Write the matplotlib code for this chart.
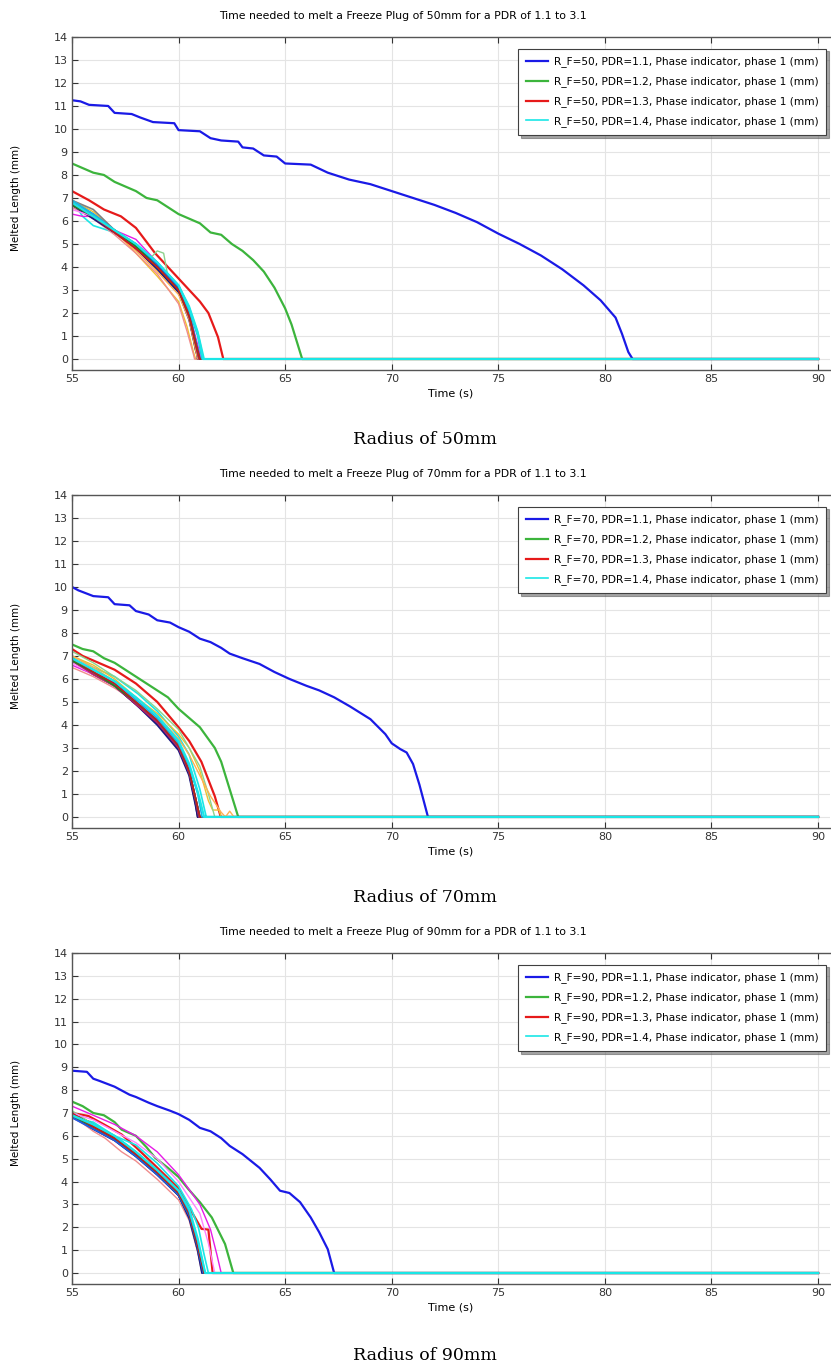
import matplotlib
matplotlib.use('Agg')
import matplotlib.pyplot as plt

radii = [50, 70, 90]
pdr = [1.1, 1.2, 1.3, 1.4, 1.5, 1.6, 1.7, 1.8, 1.9, 2.0, 2.1,
       2.2, 2.3, 2.4, 2.5, 2.6, 2.7, 2.8, 2.9, 3.0, 3.1]
t_end = 90

colors = ['#1a1ae6', '#3cb43c', '#e61a1a', '#1ae6e6', '#e61ae6', '#f0c030',
          '#202020', '#808080', '#8cd28c', '#f08c8c', '#8c3cc8', '#1a1a80',
          '#ffb050', '#ff80ff', '#40a0a0', '#c01a60', '#2060e0', '#1a8c1a',
          '#c81a1a', '#1ab4e6', '#1ae6e6']
widths = [1.6, 1.6, 1.6, 1.2, 1.0, 1.0, 1.4, 1.2, 1.0, 1.0, 1.2,
          1.4, 1.0, 1.0, 1.2, 1.2, 1.2, 1.2, 1.2, 1.2, 1.6]

# melted length (mm) vs time (s), one (t, L) pair per PDR, R_F = 50 mm
melt_50 = [
    ([55, 55.4, 55.8, 56.7, 57.0, 57.8, 58.2, 58.8, 59.8, 60.0, 61.0, 61.5, 62.0, 62.8, 63.0, 63.5, 64.0, 64.6, 65.0,
      66.2, 67.0, 68.0, 69.0, 70.0, 71.0, 72.0, 73.0, 74.0, 75.0, 76.0, 77.0, 78.0, 79.0, 79.8, 80.5, 80.8, 81.1, 81.3],
     [11.25, 11.2, 11.05, 11.0, 10.7, 10.65, 10.5, 10.3, 10.25, 9.95, 9.9, 9.6, 9.5, 9.45, 9.2, 9.15, 8.85, 8.8, 8.5,
      8.45, 8.1, 7.8, 7.6, 7.3, 7.0, 6.7, 6.35, 5.95, 5.45, 5.0, 4.5, 3.9, 3.2, 2.55, 1.8, 1.1, 0.3, 0]),
    ([55, 55.5, 56, 56.5, 57, 57.5, 58, 58.5, 59, 59.5, 60, 60.5, 61, 61.5, 62, 62.5, 63, 63.5, 64, 64.5, 65.0,
      65.3, 65.6, 65.8],
     [8.5, 8.3, 8.1, 8.0, 7.7, 7.5, 7.3, 7.0, 6.9, 6.6, 6.3, 6.1, 5.9, 5.5, 5.4, 5.0, 4.7, 4.3, 3.8, 3.1, 2.2,
      1.5, 0.6, 0]),
    ([55, 55.8, 56.5, 57.3, 58.0, 58.9, 60.0, 60.5, 61.0, 61.4, 61.85, 62.1],
     [7.3, 6.9, 6.5, 6.2, 5.7, 4.6, 3.5, 3.0, 2.5, 2.0, 0.95, 0]),
    ([55, 55.5, 56, 57, 58, 59, 60, 60.5, 60.9, 61.2],
     [6.9, 6.2, 5.8, 5.5, 5.0, 4.2, 3.2, 2.3, 1.2, 0]),
    ([55, 55.5, 56, 57, 58, 59, 60, 60.5, 60.9, 61.05],
     [6.3, 6.2, 6.2, 5.6, 5.2, 4.2, 3.1, 2.0, 0.6, 0]),
    ([55, 56, 57, 58, 59, 60, 60.4, 60.7, 60.8],
     [6.9, 6.4, 5.6, 4.6, 3.6, 2.5, 1.4, 0.3, 0]),
    ([55, 56, 57, 58, 59, 60, 60.5, 60.8, 60.95],
     [6.7, 6.2, 5.5, 4.9, 4.0, 3.0, 1.8, 0.4, 0]),
    ([55, 56, 57, 58, 59, 60, 60.5, 60.8, 61.0],
     [6.9, 6.5, 5.6, 5.0, 4.1, 3.1, 2.0, 0.8, 0]),
    ([55, 56, 57, 58, 58.6, 59.0, 59.3, 59.5, 60, 60.5, 60.8, 61.0],
     [6.9, 6.3, 5.6, 4.9, 4.3, 4.7, 4.6, 3.6, 3.0, 1.9, 0.7, 0]),
    ([55, 56, 57, 58, 59, 60, 60.4, 60.7, 60.75],
     [6.6, 6.1, 5.4, 4.6, 3.7, 2.4, 1.2, 0.2, 0]),
    ([55, 56, 57, 58, 59, 60, 60.5, 60.8, 60.95],
     [6.8, 6.2, 5.5, 4.8, 4.0, 3.0, 1.8, 0.6, 0]),
    ([55, 56, 57, 58, 59, 60, 60.5, 60.8, 60.9],
     [6.7, 6.1, 5.5, 4.8, 3.9, 2.9, 1.7, 0.5, 0]),
    ([55, 56, 57, 58, 59, 60, 60.5, 60.8, 60.9],
     [6.8, 6.3, 5.5, 4.7, 3.8, 2.8, 1.7, 0.4, 0]),
    ([55, 56, 57, 58, 59, 60, 60.5, 60.8, 61.0],
     [6.5, 6.2, 5.6, 5.0, 4.1, 3.1, 1.9, 0.8, 0]),
    ([55, 56, 57, 58, 59, 60, 60.5, 60.8, 61.0],
     [6.8, 6.2, 5.6, 4.9, 4.1, 3.1, 1.9, 0.8, 0]),
    ([55, 56, 57, 58, 59, 60, 60.5, 60.8, 60.95],
     [6.7, 6.2, 5.5, 4.8, 4.0, 3.0, 1.8, 0.6, 0]),
    ([55, 56, 57, 58, 59, 60, 60.5, 60.8, 61.0],
     [6.8, 6.3, 5.6, 4.9, 4.1, 3.1, 2.0, 0.8, 0]),
    ([55, 56, 57, 58, 59, 60, 60.5, 60.8, 61.0],
     [6.7, 6.2, 5.6, 4.9, 4.0, 3.0, 1.9, 0.7, 0]),
    ([55, 56, 57, 58, 59, 60, 60.5, 60.8, 61.0],
     [6.8, 6.2, 5.5, 4.8, 4.0, 3.0, 1.9, 0.7, 0]),
    ([55, 56, 57, 58, 59, 60, 60.5, 60.9, 61.1],
     [6.9, 6.3, 5.6, 5.0, 4.2, 3.2, 2.1, 1.0, 0]),
    ([55, 56, 57, 58, 59, 60, 60.5, 60.9, 61.15],
     [6.8, 6.2, 5.6, 5.0, 4.2, 3.2, 2.2, 1.1, 0]),
]

# R_F = 70 mm
melt_70 = [
    ([55, 55.3, 56, 56.7, 57.0, 57.7, 58.0, 58.6, 59, 59.6, 60, 60.5, 61, 61.5, 62, 62.4, 63, 63.8, 64.5, 65.2, 66,
      66.6, 67.3, 68.05, 69.0, 69.7, 70.0, 70.4, 70.7, 71.0, 71.3, 71.5, 71.7],
     [10.0, 9.85, 9.6, 9.55, 9.25, 9.2, 8.95, 8.8, 8.55, 8.45, 8.25, 8.05, 7.75, 7.6, 7.35, 7.1, 6.9, 6.65, 6.3, 6.0,
      5.7, 5.5, 5.2, 4.8, 4.25, 3.6, 3.2, 2.95, 2.8, 2.3, 1.4, 0.7, 0]),
    ([55, 55.5, 56, 56.5, 57, 57.5, 58, 58.5, 59, 59.5, 60, 60.5, 61, 61.7, 62.0, 62.3, 62.6, 62.8],
     [7.5, 7.3, 7.2, 6.9, 6.7, 6.4, 6.1, 5.8, 5.5, 5.2, 4.7, 4.3, 3.9, 3.0, 2.4, 1.5, 0.6, 0]),
    ([55, 55.5, 56, 57, 58, 59, 60, 60.5, 61.07, 61.7, 61.98],
     [7.3, 7.0, 6.8, 6.4, 5.8, 5.0, 3.9, 3.3, 2.4, 0.9, 0]),
    ([55, 56, 57, 58.1, 59, 60, 60.5, 61.0, 61.3],
     [7.0, 6.5, 6.1, 5.35, 4.6, 3.5, 2.7, 1.2, 0]),
    ([55, 56, 57, 58, 59, 60, 60.5, 60.8, 61.0],
     [6.6, 6.2, 5.7, 5.0, 4.2, 3.0, 1.9, 0.6, 0]),
    ([55, 56, 57, 58, 59, 60, 60.5, 61.0, 61.4, 61.6, 61.9, 62.0],
     [7.0, 6.6, 6.0, 5.2, 4.5, 3.6, 3.0, 2.0, 0.7, 0.3, 0.3, 0]),
    ([55, 56, 57, 58, 59, 60, 60.5, 60.8, 60.9],
     [6.8, 6.2, 5.7, 4.9, 4.1, 3.0, 1.9, 0.6, 0]),
    ([55, 56, 57, 58, 59, 60, 60.5, 60.8, 61.0],
     [6.9, 6.3, 5.8, 5.0, 4.2, 3.1, 2.0, 0.8, 0]),
    ([55, 56, 57, 58, 59, 60, 60.5, 61.0, 61.4, 61.7],
     [7.2, 6.7, 6.1, 5.5, 4.7, 3.8, 3.0, 2.2, 1.0, 0]),
    ([55, 56, 57, 58, 59, 60, 60.5, 60.8, 61.0],
     [6.5, 6.1, 5.6, 5.0, 4.2, 3.1, 2.0, 0.8, 0]),
    ([55, 56, 57, 58, 59, 60, 60.5, 60.8, 60.95],
     [6.8, 6.2, 5.7, 4.9, 4.1, 3.0, 1.9, 0.7, 0]),
    ([55, 56, 57, 58, 59, 60, 60.5, 60.8, 60.9],
     [6.9, 6.3, 5.7, 4.9, 4.0, 2.9, 1.8, 0.5, 0]),
    ([55, 56, 57, 58, 59, 60, 60.5, 61.0, 61.5, 62.0, 62.2, 62.4, 62.6],
     [7.0, 6.5, 5.9, 5.2, 4.4, 3.4, 2.7, 1.8, 0.9, 0.2, 0, 0.25, 0]),
    ([55, 56, 57, 58, 59, 60, 60.5, 60.8, 61.0],
     [6.7, 6.2, 5.7, 5.0, 4.2, 3.1, 2.0, 0.8, 0]),
    ([55, 56, 57, 58, 59, 60, 60.5, 60.8, 61.0],
     [6.9, 6.3, 5.8, 5.0, 4.2, 3.1, 2.0, 0.8, 0]),
    ([55, 56, 57, 58, 59, 60, 60.5, 60.8, 60.95],
     [6.8, 6.2, 5.7, 4.9, 4.1, 3.0, 1.9, 0.7, 0]),
    ([55, 56, 57, 58, 59, 60, 60.5, 60.8, 61.0],
     [6.9, 6.3, 5.8, 5.0, 4.2, 3.1, 2.0, 0.8, 0]),
    ([55, 56, 57, 58, 59, 60, 60.5, 60.8, 61.0],
     [6.8, 6.3, 5.7, 5.0, 4.2, 3.1, 2.0, 0.8, 0]),
    ([55, 56, 57, 58, 59, 60, 60.5, 60.8, 61.0],
     [6.9, 6.3, 5.8, 5.0, 4.2, 3.1, 2.0, 0.8, 0]),
    ([55, 56, 57, 58, 59, 60, 60.5, 60.9, 61.1],
     [6.9, 6.4, 5.9, 5.1, 4.3, 3.2, 2.2, 1.0, 0]),
    ([55, 56, 57, 58, 59, 60, 60.5, 60.9, 61.2],
     [6.9, 6.4, 5.9, 5.2, 4.4, 3.3, 2.3, 1.1, 0]),
]

# R_F = 90 mm
melt_90 = [
    ([55, 55.7, 56.0, 56.3, 57.0, 57.7, 58.0, 58.6, 59, 59.6, 60, 60.5, 61, 61.5, 62, 62.4, 63, 63.8, 64.3, 64.76, 65.2,
      65.7, 66.2, 66.6, 67.0, 67.3],
     [8.85, 8.8, 8.5, 8.4, 8.15, 7.8, 7.7, 7.45, 7.3, 7.1, 6.95, 6.7, 6.35, 6.2, 5.9, 5.56, 5.2, 4.6, 4.1, 3.6, 3.5,
      3.1, 2.43, 1.78, 1.04, 0]),
    ([55, 55.5, 56, 56.5, 57, 57.33, 58, 58.5, 58.9, 59.5, 60.0, 60.46, 61.0, 61.56, 62.18, 62.57],
     [7.5, 7.3, 7.0, 6.9, 6.6, 6.27, 6.0, 5.5, 5.04, 4.6, 4.2, 3.67, 3.1, 2.43, 1.27, 0]),
    ([55, 55.77, 56.5, 57.33, 58, 58.9, 60, 60.6, 61.08, 61.4, 61.6],
     [7.0, 6.87, 6.5, 6.06, 5.5, 4.7, 3.7, 2.7, 1.93, 1.9, 0]),
    ([55, 56, 57, 58, 59, 60, 60.6, 60.93, 61.2, 61.4],
     [6.8, 6.6, 6.0, 5.6, 4.8, 3.8, 2.8, 2.0, 0.8, 0]),
    ([55, 56, 57, 58, 59, 60, 61, 61.5, 61.8, 62.0],
     [7.3, 6.9, 6.5, 6.0, 5.3, 4.3, 3.0, 1.9, 0.8, 0]),
    ([55, 56, 57, 58, 59, 60, 60.5, 60.9, 61.2],
     [6.9, 6.4, 5.9, 5.2, 4.4, 3.5, 2.6, 1.2, 0]),
    ([55, 56, 57, 58, 59, 60, 60.5, 60.9, 61.15],
     [7.0, 6.5, 5.9, 5.2, 4.4, 3.4, 2.5, 1.0, 0]),
    ([55, 56, 57, 58, 59, 60, 60.5, 60.9, 61.2],
     [6.9, 6.4, 5.9, 5.2, 4.4, 3.5, 2.6, 1.2, 0]),
    ([55, 56, 57, 58, 59, 60, 60.5, 60.9, 61.2],
     [7.1, 6.5, 6.0, 5.3, 4.5, 3.6, 2.7, 1.3, 0]),
    ([55, 56, 56.55, 57.33, 58, 59, 60, 60.5, 60.9, 61.1],
     [6.9, 6.2, 5.9, 5.3, 4.9, 4.1, 3.2, 2.3, 0.9, 0]),
    ([55, 56, 57, 58, 59, 60, 60.5, 60.9, 61.15],
     [6.8, 6.3, 5.8, 5.1, 4.3, 3.4, 2.5, 1.1, 0]),
    ([55, 56, 57, 58, 59, 60, 60.5, 60.9, 61.1],
     [6.9, 6.3, 5.8, 5.1, 4.3, 3.4, 2.4, 1.0, 0]),
    ([55, 56, 57, 58, 59, 60, 60.5, 60.9, 61.2],
     [7.0, 6.4, 5.9, 5.2, 4.4, 3.5, 2.6, 1.2, 0]),
    ([55, 56, 57, 58, 59, 60, 61, 61.4, 61.7],
     [7.0, 6.7, 6.2, 5.7, 5.0, 4.0, 2.6, 1.3, 0]),
    ([55, 56, 57, 58, 59, 60, 60.5, 60.9, 61.2],
     [6.9, 6.4, 5.9, 5.2, 4.4, 3.5, 2.6, 1.2, 0]),
    ([55, 56, 57, 58, 59, 60, 60.5, 60.9, 61.2],
     [6.9, 6.4, 5.9, 5.2, 4.4, 3.5, 2.6, 1.2, 0]),
    ([55, 56, 57, 58, 59, 60, 60.5, 60.9, 61.15],
     [6.8, 6.3, 5.8, 5.1, 4.3, 3.4, 2.5, 1.1, 0]),
    ([55, 56, 57, 58, 59, 60, 60.5, 60.9, 61.2],
     [6.9, 6.4, 5.9, 5.2, 4.4, 3.5, 2.6, 1.2, 0]),
    ([55, 56, 57, 58, 59, 60, 60.5, 60.9, 61.2],
     [7.0, 6.4, 5.9, 5.2, 4.4, 3.5, 2.6, 1.2, 0]),
    ([55, 56, 57, 58, 59, 60, 60.5, 60.9, 61.25],
     [6.9, 6.5, 6.0, 5.3, 4.5, 3.6, 2.7, 1.4, 0]),
    ([55, 56, 57, 58, 59, 60, 60.5, 60.9, 61.25],
     [6.9, 6.5, 6.0, 5.3, 4.5, 3.6, 2.8, 1.5, 0]),
]

all_data = [melt_50, melt_70, melt_90]

fig = plt.figure(figsize=(8.31, 13.69), dpi=100)
# axes boxes in figure fractions: (left, bottom, width, height)
boxes = [(0.0866, 0.7297, 0.9122, 0.2433),
         (0.0866, 0.3952, 0.9122, 0.2433),
         (0.0866, 0.0621, 0.9122, 0.2418)]
title_y = [0.9883, 0.6538, 0.3192]
caption_y = [0.6786, 0.3441, 0.0095]

for k in range(3):
    ax = fig.add_axes(boxes[k])
    data = all_data[k]
    for i in range(len(pdr)):
        t, L = data[i]
        lab = 'R_F=%d, PDR=%.1f, Phase indicator, phase 1 (mm)' % (radii[k], pdr[i])
        ax.plot(list(t) + [t_end], list(L) + [0], color=colors[i], lw=widths[i],
                label=lab if i < 4 else None, zorder=2 + i * 0.01)
    ax.set_xlim(55, 90.56)
    ax.set_ylim(-0.48, 14)
    ax.set_xticks(range(55, 91, 5))
    ax.set_yticks(range(0, 15))
    ax.grid(True, color='#e4e4e4', lw=0.8)
    ax.set_axisbelow(True)
    ax.tick_params(direction='in', top=True, right=False, labelsize=8,
                   length=4, width=0.8, colors='#333333', pad=3)
    ax.spines['right'].set_visible(False)
    for s in ['top', 'left', 'bottom']:
        ax.spines[s].set_color('#555555')
        ax.spines[s].set_linewidth(1.0)
    ax.set_xlabel('Time (s)', fontsize=8, labelpad=3)
    leg = ax.legend(loc='upper right', bbox_to_anchor=(0.995, 0.965), borderaxespad=0,
                    fontsize=7.6, frameon=True, fancybox=False, shadow=True,
                    edgecolor='#404040', handlelength=2.1, labelspacing=0.85,
                    borderpad=0.75, handletextpad=0.5)
    leg.get_frame().set_linewidth(0.8)
    fig.text(403 / 831, title_y[k],
             'Time needed to melt a Freeze Plug of %dmm for a PDR of 1.1 to 3.1' % radii[k],
             ha='center', va='center', fontsize=7.8)
    fig.text(16 / 831, boxes[k][1] + boxes[k][3] / 2 + 0.004, 'Melted Length (mm)',
             rotation=90, ha='center', va='center', fontsize=7.5)
    fig.text(425 / 831, caption_y[k], 'Radius of %dmm' % radii[k],
             ha='center', va='center', fontsize=12.5, family='DejaVu Serif')

fig.savefig('out.png', dpi=100)
